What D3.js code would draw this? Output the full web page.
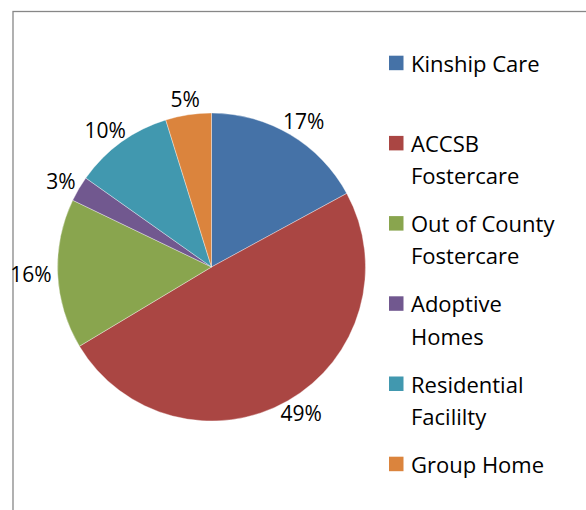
<!doctype html>
<html lang="en">
<head>
<meta charset="utf-8">
<title>Placement pie</title>
<style>
	body { margin: 0; background: #fff; }
	svg text { font-family: "Open Sans", sans-serif; fill: #000; }
</style>
</head>
<body>
<div id="viz"></div>
<script src="https://cdn.jsdelivr.net/npm/d3@7/dist/d3.min.js"></script>
<script>
(function(d3) {

	// DATA
	var categories = ["Kinship Care", "ACCSB Fostercare", "Out of County Fostercare",
		"Adoptive Homes", "Residential Facililty", "Group Home"];
	var counts = [64, 185, 59, 10, 39, 18];
	var colorList = ["#4572A7", "#AA4643", "#89A54E", "#71588F", "#4198AF", "#DB843D"];

	// Dimensions
	var w = 586,
		h = 510;
	var cx = 211.5,
		cy = 267,
		radius = 154;

	var svg = d3.select("#viz")
		.append("svg")
		.attr("width", w)
		.attr("height", h);

	// chart frame (runs off the right and bottom edges)
	svg.append("rect")
		.attr("x", 13)
		.attr("y", 11.5)
		.attr("width", w)
		.attr("height", h)
		.attr("fill", "none")
		.attr("stroke", "#878787")
		.attr("stroke-width", 1.3);

	var data = categories.map(function(c, i) {
		return { name: c, value: counts[i] };
	});
	var total = d3.sum(counts);

	var colors = d3.scaleOrdinal().domain(categories).range(colorList);

	// PIE GENERATOR - first slice starts at 12 o'clock, clockwise
	var pie = d3.pie()
		.sort(null)
		.value(function(d) { return d.value; });

	var arc = d3.arc()
		.innerRadius(0)
		.outerRadius(radius);

	var g = svg.append("g")
		.attr("transform", "translate(" + cx + "," + cy + ")");

	var slices = pie(data);

	g.selectAll("path")
		.data(slices)
		.enter()
		.append("path")
		.attr("d", arc)
		.attr("fill", function(d) { return colors(d.data.name); })
		.attr("stroke", "#ffffff")
		.attr("stroke-opacity", 0.6)
		.attr("stroke-width", 0.6);

	// LABELS - outside end, box pushed away from the pie
	var labelSize = 21;
	g.selectAll("text.pct")
		.data(slices)
		.enter()
		.append("text")
		.attr("class", "pct")
		.style("font-size", labelSize + "px")
		.text(function(d) { return Math.round(d.value / total * 100) + "%"; })
		.each(function(d) {
			var t = d3.select(this);
			var a = (d.startAngle + d.endAngle) / 2;
			var s = Math.sin(a), c = Math.cos(a);
			var bw = this.getComputedTextLength();
			var bh = 18;
			var r = radius + 6;
			var x = r * s + s * bw / 2;
			var y = -r * c - c * bh / 2;
			t.attr("x", x)
				.attr("y", y + labelSize * 0.35)
				.attr("text-anchor", "middle");
		});

	// LEGEND
	var legendX = 389,
		legendTop = 71.7,
		legendStep = 80.2,
		lineH = 32.3,
		wrapWidth = 160,
		sq = 14.5,
		fontSize = 22;

	var legend = svg.append("g");

	var items = legend.selectAll("g")
		.data(categories)
		.enter()
		.append("g")
		.attr("transform", function(d, i) {
			return "translate(" + legendX + "," + (legendTop + i * legendStep) + ")";
		});

	items.append("rect")
		.attr("x", 0)
		.attr("y", -sq - 1.5)
		.attr("width", sq)
		.attr("height", sq)
		.attr("fill", function(d) { return colors(d); });

	items.append("text")
		.attr("x", 22)
		.attr("y", 0)
		.style("font-size", fontSize + "px")
		.each(function(d) {
			// word wrap like the Excel legend
			var t = d3.select(this);
			var words = d.split(" ");
			var line = [];
			var lineNo = 0;
			var tspan = t.append("tspan").attr("x", 22).attr("y", 0);
			words.forEach(function(wd) {
				line.push(wd);
				tspan.text(line.join(" "));
				if (tspan.node().getComputedTextLength() > wrapWidth && line.length > 1) {
					line.pop();
					tspan.text(line.join(" "));
					line = [wd];
					lineNo++;
					tspan = t.append("tspan")
						.attr("x", 22)
						.attr("y", lineNo * lineH)
						.text(wd);
				}
			});
		});

})(d3);
</script>
</body>
</html>
